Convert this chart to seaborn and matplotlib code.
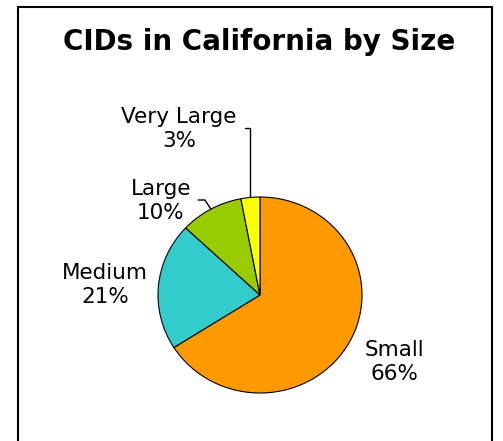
import numpy as np
import matplotlib
matplotlib.use("Agg")
import matplotlib.pyplot as plt
import seaborn as sns
from matplotlib.patches import Rectangle

# ------------ DATA ------------
sizes = ["Small", "Medium", "Large", "Very Large"]
shares = [66, 21, 10, 3]
colors = ["#FF9900", "#33CCCC", "#99CC00", "#FFFF00"]
title = "CIDs in California by Size"

# ------------ STYLE ------------
sns.set_style("white")
plt.rcParams["font.family"] = ["DejaVu Sans"]
plt.rcParams["text.color"] = "black"

W, H = 503, 441
fig = plt.figure(figsize=(W / 100, H / 100), dpi=100)
ax = fig.add_axes([0, 0, 1, 1])

# pie centre / radius in pixels
cx, cy = 260, 295
rx, ry = 102, 98

labels = [f"{s}\n{p}%" for s, p in zip(sizes, shares)]
wedges, texts = ax.pie(
    shares, labels=labels, colors=colors, startangle=90, counterclock=False,
    wedgeprops=dict(edgecolor="black", linewidth=0.8),
    textprops=dict(fontsize=15.5, ha="center", va="center", linespacing=1.3,
                   color="black"),
)

ax.set_aspect("auto")
ax.set_xlim(-cx / rx, (W - cx) / rx)
ax.set_ylim(-(H - cy) / ry, cy / ry)
ax.axis("off")


def px(x, y):
    return (x - cx) / rx, (cy - y) / ry


# label placement (pixel positions)
label_pos = {"Small": (394, 362), "Medium": (105, 285),
             "Large": (161, 201), "Very Large": (179, 129)}
for t, s in zip(texts, sizes):
    t.set_position(px(*label_pos[s]))


def mid_point(w):
    ang = np.deg2rad((w.theta1 + w.theta2) / 2)
    return np.cos(ang), np.sin(ang)


# leader lines for the narrow wedges
vl = wedges[sizes.index("Very Large")]
ex, ey = mid_point(vl)
x0, y0 = px(245, 128)
ax.plot([x0, ex, ex], [y0, y0, ey], color="black", lw=1)

lg = wedges[sizes.index("Large")]
ex, ey = mid_point(lg)
x0, y0 = px(198, 200)
x1, _ = px(205, 0)
ax.plot([x0, x1, ex], [y0, y0, ey], color="black", lw=1)

# title and frame
fig.text(259 / W, 1 - 42 / H, title, ha="center", va="center",
         fontsize=20, fontweight="bold")
fig.patches.append(Rectangle((18 / W, -0.05), (492 - 18) / W, (1 - 7 / H) + 0.05,
                             transform=fig.transFigure, fill=False,
                             edgecolor="black", linewidth=1.5))

plt.savefig("out.png", dpi=100)
plt.close()
